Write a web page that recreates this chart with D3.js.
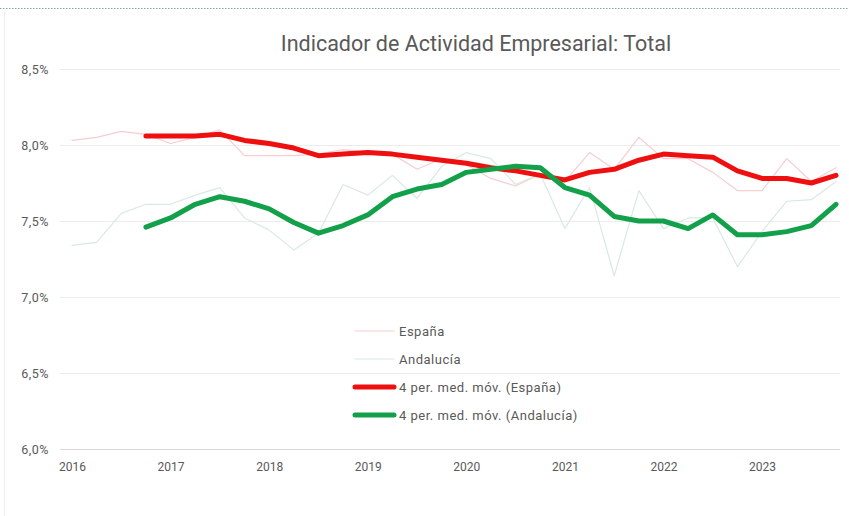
<!DOCTYPE html>
<html><head><meta charset="utf-8">
<script src="https://cdn.jsdelivr.net/npm/d3@7"></script>
<style>body{margin:0;background:#fff;}svg{display:block;font-family:Roboto,"Liberation Sans",sans-serif;}</style>
</head><body><svg id="c" width="849" height="516"></svg>
<script>
const quarters = [];
for (let y = 2016; y <= 2023; y++) for (let q = 1; q <= 4; q++) quarters.push(y + "T" + q);
const yearLabels = ["2016","2017","2018","2019","2020","2021","2022","2023"];
const yTicks = [6.0, 6.5, 7.0, 7.5, 8.0, 8.5];
const espana = [8.03,8.05,8.09,8.07,8.01,8.05,8.10,7.93,7.93,7.93,7.94,7.97,7.95,7.94,7.84,7.91,
                7.87,7.78,7.73,7.81,7.76,7.95,7.84,8.05,7.91,7.91,7.82,7.70,7.70,7.91,7.76,7.85];
const andalucia = [7.34,7.36,7.55,7.61,7.61,7.67,7.72,7.52,7.44,7.31,7.42,7.74,7.67,7.80,7.65,7.86,
                   7.95,7.91,7.74,7.81,7.45,7.72,7.14,7.70,7.45,7.52,7.52,7.20,7.43,7.63,7.64,7.76];
const mmEspana = [null,null,null,8.06,8.06,8.06,8.07,8.03,8.01,7.98,7.93,7.94,7.95,7.94,7.92,7.90,
                  7.88,7.85,7.83,7.80,7.77,7.82,7.84,7.90,7.94,7.93,7.92,7.83,7.78,7.78,7.75,7.80];
const mmAndalucia = [null,null,null,7.46,7.52,7.61,7.66,7.63,7.58,7.49,7.42,7.47,7.54,7.66,7.71,7.74,
                     7.82,7.84,7.86,7.85,7.72,7.67,7.53,7.50,7.50,7.45,7.54,7.41,7.41,7.43,7.47,7.61];
const seriesNames = ["España","Andalucía","4 per. med. móv. (España)","4 per. med. móv. (Andalucía)"];

const svg = d3.select("#c");
const x = d3.scalePoint().domain(quarters).range([72, 836]);
const y = d3.scaleLinear().domain([6, 8.5]).range([449, 69]);

// frame decorations
svg.append("line").attr("x1",0).attr("x2",849).attr("y1",8.5).attr("y2",8.5)
  .attr("stroke","#7fa99a").attr("stroke-width",1).attr("stroke-dasharray","1.5,1.5");
svg.append("line").attr("x1",4.5).attr("x2",4.5).attr("y1",12).attr("y2",516)
  .attr("stroke","#eeeeee").attr("stroke-width",1);

// title
svg.append("text").attr("x",476).attr("y",51).attr("text-anchor","middle")
  .attr("font-size",21.5).attr("fill","#595959").text("Indicador de Actividad Empresarial: Total");

// grid + y axis
const yAxis = d3.axisLeft(y).tickValues(yTicks).tickSize(-(840-60))
  .tickFormat(d => d3.format(".1f")(d).replace(".", ",") + "%");
const gy = svg.append("g").attr("transform","translate(60,0)").call(yAxis);
gy.select(".domain").remove();
gy.selectAll(".tick line").attr("stroke", d => d === 6 ? "#d9d9d9" : "#ececec");
gy.selectAll(".tick text").attr("x",-11).attr("font-size",12.5).attr("letter-spacing",0.5).attr("fill","#595959")
  .attr("font-family","Roboto,'Liberation Sans',sans-serif");

// x axis labels
const xAxis = d3.axisBottom(x).tickValues(quarters.filter((q,i)=>i%4===0))
  .tickFormat(q => yearLabels[quarters.indexOf(q)/4]).tickSize(0);
const gx = svg.append("g").attr("transform","translate(0,449)").call(xAxis);
gx.select(".domain").remove();
gx.selectAll(".tick text").attr("dy",0).attr("y",22).attr("font-size",12).attr("fill","#595959")
  .attr("font-family","Roboto,'Liberation Sans',sans-serif");

const line = d3.line().defined(d => d[1] != null).x(d => x(d[0])).y(d => y(d[1]));
const mk = arr => quarters.map((q,i)=>[q, arr[i]]);
const styles = [
  {data: espana, color:"#f7cdd0", w:1.2},
  {data: andalucia, color:"#d9eadf", w:1.2},
  {data: mmEspana, color:"#ee1010", w:5},
  {data: mmAndalucia, color:"#13a04b", w:5}
];
styles.forEach(s => {
  svg.append("path").datum(mk(s.data)).attr("d", line).attr("fill","none")
    .attr("stroke", s.color).attr("stroke-width", s.w).attr("stroke-linejoin","round").attr("stroke-linecap","round");
});

// legend
const lg = svg.append("g");
seriesNames.forEach((n,i) => {
  const yy = 331 + i*28;
  lg.append("line").attr("x1",355).attr("x2",394).attr("y1",yy).attr("y2",yy)
    .attr("stroke", styles[i].color).attr("stroke-width", styles[i].w).attr("stroke-linecap","round");
  lg.append("text").attr("x",399).attr("y",yy+4.5).attr("font-size",13).attr("letter-spacing",0.5)
    .attr("fill","#595959").text(n);
});
</script></body></html>
